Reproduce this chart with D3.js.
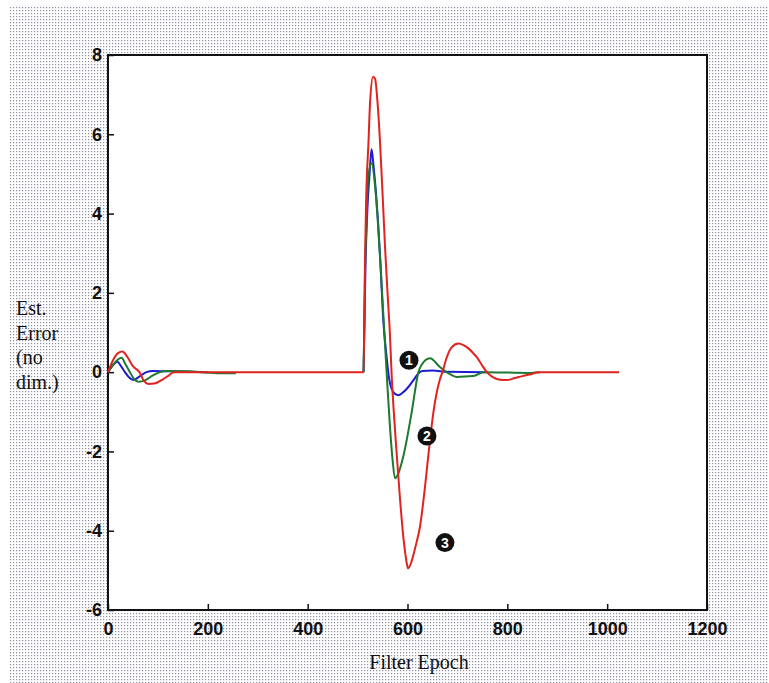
<!DOCTYPE html>
<html>
<head>
<meta charset="utf-8">
<script src="https://cdn.jsdelivr.net/npm/d3@7"></script>
<style>
	body { margin: 0; background: #fff; }
	.tick-label { font-family: 'Liberation Sans', Arial, sans-serif; font-weight: bold; font-size: 18px; fill: #111; }
	.axis-title { font-family: 'Liberation Serif', 'Times New Roman', serif; font-size: 20px; fill: #111; }
</style>
</head>
<body>
<div id="graph"></div>
<script>
// Tick values
var xTicks = [0, 200, 400, 600, 800, 1000, 1200];
var yTicks = [-6, -4, -2, 0, 2, 4, 6, 8];

// Curve 1 (blue) - two recorded segments, null marks the gap
var blueEpoch = [0, 10, 19, 26, 34, 42, 51, 62, 77, 90, 120, 200, null,
	512, 516, 520, 524, 528, 532, 537, 541, 546, 551, 558, 563, 568, 575, 582, 590, 600, 612, 622, 630, 650, 680, 760];
var blueValue = [0, 0.18, 0.26, 0.15, 0, -0.13, -0.2, -0.12, 0, 0.03, 0.02, 0, null,
	0, 2.8, 4.2, 5.0, 5.62, 5.2, 4.5, 3.8, 2.7, 1.4, 0.4, -0.15, -0.42, -0.55, -0.58, -0.52, -0.4, -0.2, -0.03, 0.03, 0.04, 0.01, 0];

// Curve 2 (green)
var greenEpoch = [0, 10, 20, 27, 35, 44, 52, 61, 75, 90, 104, 120, 160, 190, 230, 256, null,
	512, 515, 518, 521, 528, 535, 540, 545, 550, 555, 560, 565, 570, 575, 580, 592, 608, 622, 628, 645, 665, 685, 698, 732, 752, 845, 865];
var greenValue = [0, 0.18, 0.32, 0.36, 0.2, 0, -0.17, -0.24, -0.2, -0.08, 0, 0.03, 0.02, 0, -0.03, -0.03, null,
	0, 2.6, 3.8, 4.9, 5.27, 4.7, 3.9, 2.9, 1.8, 0.7, -0.4, -1.4, -2.2, -2.68, -2.6, -2.1, -1.04, 0, 0.18, 0.35, 0.13, -0.05, -0.12, -0.1, 0, -0.02, 0];

// Curve 3 (red) - continuous run
var redEpoch = [0, 10, 20, 29, 38, 50, 63, 72, 81, 95, 110, 120, 132, 256, 511,
	512, 515, 517, 522, 525, 531, 535, 540, 545, 550, 555, 560, 565, 568, 572, 578, 585, 592, 597, 601, 606, 612, 618, 625, 635, 645, 652, 658, 665, 670, 678, 688, 702, 712, 722, 730, 738, 748, 759, 770, 785, 799, 815, 830, 845, 862, 1024];
var redValue = [0, 0.3, 0.48, 0.52, 0.4, 0.15, 0, -0.22, -0.3, -0.28, -0.18, -0.1, 0, 0, 0,
	0, 2.9, 4.25, 5.85, 6.8, 7.45, 7.4, 6.8, 5.8, 4.5, 3.16, 2.0, 0.9, 0, -0.9, -2.0, -3.2, -4.2, -4.7, -4.95, -4.85, -4.6, -4.3, -3.9, -2.9, -1.72, -1.0, -0.55, -0.18, 0, 0.35, 0.62, 0.72, 0.68, 0.6, 0.5, 0.39, 0.2, 0, -0.12, -0.19, -0.2, -0.15, -0.1, -0.06, 0, 0];

// Numbered markers placed next to the curves
var markerText = ['1', '2', '3'];
var markerEpoch = [603, 639, 675];
var markerValue = [0.3, -1.61, -4.3];

var width = 769, height = 683;
var margin = { top: 55, right: 62, bottom: 73, left: 108 };
var innerW = width - margin.left - margin.right,
	innerH = height - margin.top - margin.bottom;

var svg = d3
	.select('#graph')
	.append('svg')
	.attr('width', width)
	.attr('height', height);

//halftone dotted background like the scanned figure
var pat = svg
	.append('defs')
	.append('pattern')
	.attr('id', 'dots')
	.attr('width', 3)
	.attr('height', 3)
	.attr('patternUnits', 'userSpaceOnUse');
pat.append('rect').attr('width', 3).attr('height', 3).attr('fill', '#fff');
pat.append('rect').attr('x', 1).attr('y', 1).attr('width', 1.2).attr('height', 1.2).attr('fill', '#8e8ea2');

svg.append('rect').attr('x', 10).attr('y', 5).attr('width', width - 10).attr('height', height - 5).attr('fill', 'url(#dots)');

var g = svg.append('g').attr('transform', 'translate(' + margin.left + ',' + margin.top + ')');

//plot area
g.append('rect').attr('width', innerW).attr('height', innerH).attr('fill', '#fff');

//Scales
var x = d3.scaleLinear().domain([0, 1200]).range([0, innerW]);
var y = d3.scaleLinear().domain([-6, 8]).range([innerH, 0]);

//plain labels, hyphen minus and no thousands comma
var plain = function(d) {
	return String(d);
};

//X axis, ticks pointing inward
g
	.append('g')
	.attr('transform', 'translate(0,' + innerH + ')')
	.call(d3.axisBottom(x).tickValues(xTicks).tickFormat(plain).tickSize(-6).tickPadding(12).tickSizeOuter(0))
	.call(function(a) {
		a.select('.domain').remove();
		a.selectAll('line').attr('stroke', '#111').attr('stroke-width', 1.5);
		a.selectAll('text').attr('class', 'tick-label').attr('font-size', null).attr('font-family', null);
	});

//Y axis
g
	.append('g')
	.call(d3.axisLeft(y).tickValues(yTicks).tickFormat(plain).tickSize(-6).tickPadding(6).tickSizeOuter(0))
	.call(function(a) {
		a.select('.domain').remove();
		a.selectAll('line').attr('stroke', '#111').attr('stroke-width', 1.5);
		a.selectAll('text').attr('class', 'tick-label').attr('font-size', null).attr('font-family', null);
	});

//frame round plot area
g.append('rect').attr('width', innerW).attr('height', innerH).attr('fill', 'none').attr('stroke', '#111').attr('stroke-width', 2);

//Curves
function drawCurve(ep, val, color) {
	var pts = ep.map(function(e, i) {
		return [e, val[i]];
	});
	g
		.append('path')
		.datum(pts)
		.attr('fill', 'none')
		.attr('stroke', color)
		.attr('stroke-width', 2)
		.attr('stroke-linejoin', 'round')
		.attr(
			'd',
			d3
				.line()
				.defined(function(d) {
					return d[0] !== null;
				})
				.curve(d3.curveMonotoneX)
				.x(function(d) {
					return x(d[0]);
				})
				.y(function(d) {
					return y(d[1]);
				})
		);
}
drawCurve(blueEpoch, blueValue, '#1c1cd0');
drawCurve(greenEpoch, greenValue, '#1d7a30');
drawCurve(redEpoch, redValue, '#e0231f');

//Numbered black markers
var mk = g
	.selectAll('.marker')
	.data(markerText)
	.enter()
	.append('g')
	.attr('transform', function(d, i) {
		return 'translate(' + x(markerEpoch[i]) + ',' + y(markerValue[i]) + ')';
	});
mk.append('circle').attr('r', 9.5).attr('fill', '#111');
mk
	.append('text')
	.attr('text-anchor', 'middle')
	.attr('dy', '0.36em')
	.attr('fill', '#fff')
	.style('font-family', 'Liberation Sans, Arial, sans-serif')
	.style('font-weight', 'bold')
	.style('font-size', '14px')
	.text(function(d) {
		return d;
	});

//X axis title
svg
	.append('text')
	.attr('class', 'axis-title')
	.attr('text-anchor', 'middle')
	.attr('x', 419)
	.attr('y', 669)
	.text('Filter Epoch');

//Y axis title, stacked lines
var yTitle = ['Est.', 'Error', '(no', 'dim.)'];
svg
	.append('text')
	.attr('class', 'axis-title')
	.selectAll('tspan')
	.data(yTitle)
	.enter()
	.append('tspan')
	.attr('x', 16)
	.attr('y', function(d, i) {
		return 315 + i * 24.5;
	})
	.text(function(d) {
		return d;
	});
</script>
</body>
</html>
